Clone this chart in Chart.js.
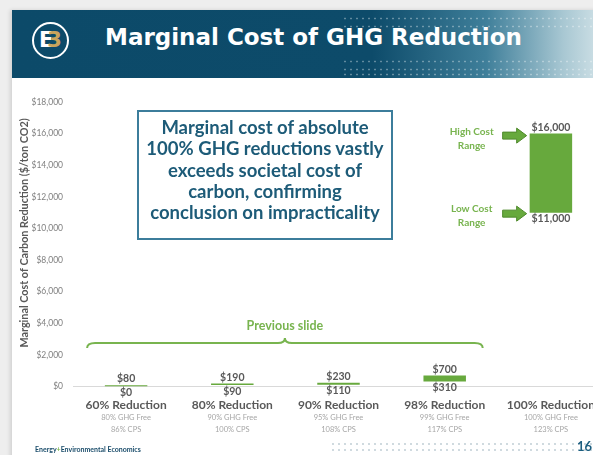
<!DOCTYPE html>
<html lang="en">
<head>
  <meta charset="UTF-8" />
  <title>Marginal Cost of GHG Reduction</title>
  <script src="https://cdn.jsdelivr.net/npm/chart.js"></script>
  <style>
    html, body { margin: 0; padding: 0; }
    body { width: 593px; height: 455px; overflow: hidden; background: #eeeeee; position: relative; font-family: 'Lato', sans-serif; }
    #slide { position: absolute; left: 12px; top: 10px; width: 620px; height: 460px; background: #fff; box-shadow: -2px 0 4px rgba(0,0,0,0.12); }
    #header { position: absolute; left: 12px; top: 10px; width: 600px; height: 68px;
      background: linear-gradient(to right, #0c4a69 0%, #0d4b6a 60%, #3f7f9a 79%, #a9c8d3 92%, #dce9ed 100%); }
    #header .dots { position: absolute; left: 330px; width: 270px; height: 3px;
      background-image: radial-gradient(circle, rgba(255,255,255,0.35) 0.8px, transparent 1.2px);
      background-size: 6px 3px; }
    #logo { position: absolute; left: 32px; top: 22px; width: 33px; height: 33px; border: 2px solid #fff; border-radius: 50%;
      font: bold 21px 'DejaVu Sans', sans-serif; color: #fff; text-align: center; line-height: 33px; }
    #logo span { color: #c9a45c; margin-left: -6px; }
    #title { position: absolute; left: 105px; top: 24px; color: #fff; font: bold 23px 'DejaVu Sans', sans-serif; }
    #note { position: absolute; left: 137px; top: 110px; width: 256px; height: 130px; border: 2px solid #3c7d9b;
      color: #1d5b78; font: bold 18.5px 'Lato', sans-serif; line-height: 21.3px; text-align: center; padding-top: 5px; box-sizing: border-box; }
    #chart { position: absolute; left: 0; top: 0; }
    #foot { position: absolute; left: 35px; top: 445px; font: bold 7px 'Lato', sans-serif; color: #1b4d6b; }
    #foot span { color: #7ab648; }
    #page { position: absolute; left: 577px; top: 438px; font: bold 13px 'Lato', sans-serif; color: #1d5f80; }
    #footdots { position: absolute; left: 330px; top: 441px; width: 270px; height: 12px;
      background-image: radial-gradient(circle, rgba(120,150,165,0.35) 0.8px, transparent 1.2px);
      background-size: 6px 6px; }
  </style>
</head>
<body>
  <div id="slide"></div>
  <div id="header">
    <div class="dots" style="top:7px"></div>
    <div class="dots" style="top:15px"></div>
    <div class="dots" style="top:50px"></div>
    <div class="dots" style="top:58px"></div>
    <div class="dots" style="top:63px"></div>
  </div>
  <div id="logo">E<span>3</span></div>
  <div id="title">Marginal Cost of GHG Reduction</div>
  <div id="footdots"></div>
  <canvas id="chart" width="612" height="455"></canvas>
  <div id="note">Marginal cost of absolute<br>100% GHG reductions vastly<br>exceeds societal cost of<br>carbon, confirming<br>conclusion on impracticality</div>
  <div id="foot">Energy<span>+</span>Environmental Economics</div>
  <div id="page">16</div>

  <script>
    // categories and sub labels
    const categories = ['60% Reduction', '80% Reduction', '90% Reduction', '98% Reduction', '100% Reduction'];
    const ghgFree = ['80% GHG Free', '90% GHG Free', '95% GHG Free', '99% GHG Free', '100% GHG Free'];
    const cps = ['86% CPS', '100% CPS', '108% CPS', '117% CPS', '123% CPS'];

    // cost range ($/ton CO2)
    const lowCost = [0, 90, 110, 310, 11000];
    const highCost = [80, 190, 230, 700, 16000];

    const yTicks = { min: 0, max: 18000, step: 2000 };

    const green = '#67a93d';
    const lightGreen = '#78b44f';
    const greyText = '#595959';

    const money = v => '$' + v.toLocaleString('en-US');

    const overlay = {
      id: 'overlay',
      afterDatasetsDraw(chart) {
        const ctx = chart.ctx;
        const x = chart.scales.x;
        const y = chart.scales.y;
        const bars = chart.getDatasetMeta(0).data;
        ctx.save();

        // value labels above / below each bar
        ctx.fillStyle = greyText;
        ctx.textAlign = 'center';
        ctx.font = 'bold 10.5px Lato, sans-serif';
        bars.forEach((bar, i) => {
          const top = Math.min(bar.y, bar.base);
          const bottom = Math.max(bar.y, bar.base);
          ctx.textBaseline = 'bottom';
          ctx.fillText(money(highCost[i]), bar.x, top - 1);
          ctx.textBaseline = 'top';
          ctx.fillText(money(lowCost[i]), bar.x, bottom + 1);
        });

        // category labels
        categories.forEach((c, i) => {
          const cx = x.getPixelForValue(i);
          ctx.textBaseline = 'middle';
          ctx.fillStyle = greyText;
          ctx.font = 'bold 12px Lato, sans-serif';
          ctx.fillText(c, cx, 405);
          ctx.fillStyle = '#a6a6a6';
          ctx.font = '7.5px Lato, sans-serif';
          ctx.fillText(ghgFree[i], cx, 418);
          ctx.fillText(cps[i], cx, 430);
        });

        // y-axis title
        ctx.save();
        ctx.translate(25, 233);
        ctx.rotate(-Math.PI / 2);
        ctx.fillStyle = greyText;
        ctx.font = 'bold 10.8px Lato, sans-serif';
        ctx.textBaseline = 'middle';
        ctx.fillText('Marginal Cost of Carbon Reduction ($/ton CO2)', 0, 0);
        ctx.restore();

        // brace over the first four bars
        const bl = x.getPixelForValue(0) - 39;
        const br = x.getPixelForValue(3) + 38;
        const bm = (bl + br) / 2;
        const by = y.getPixelForValue(2750);
        ctx.strokeStyle = lightGreen;
        ctx.lineWidth = 2;
        ctx.beginPath();
        ctx.moveTo(bl, by + 5);
        ctx.quadraticCurveTo(bl, by, bl + 8, by);
        ctx.lineTo(bm - 7, by);
        ctx.quadraticCurveTo(bm, by, bm, by - 5);
        ctx.quadraticCurveTo(bm, by, bm + 7, by);
        ctx.lineTo(br - 8, by);
        ctx.quadraticCurveTo(br, by, br, by + 5);
        ctx.stroke();
        ctx.fillStyle = lightGreen;
        ctx.font = 'bold 12.5px Lato, sans-serif';
        ctx.textBaseline = 'middle';
        ctx.fillText('Previous slide', bm, by - 17);

        // high / low cost arrows for the last bar
        const last = bars[4];
        const tipX = last.x - last.width / 2 - 3;
        const arrow = (ay) => {
          const x0 = tipX - 24, hx = tipX - 10;
          ctx.beginPath();
          ctx.moveTo(x0, ay - 3.5);
          ctx.lineTo(hx, ay - 3.5);
          ctx.lineTo(hx, ay - 7.5);
          ctx.lineTo(tipX, ay);
          ctx.lineTo(hx, ay + 7.5);
          ctx.lineTo(hx, ay + 3.5);
          ctx.lineTo(x0, ay + 3.5);
          ctx.closePath();
          ctx.fillStyle = green;
          ctx.fill();
          ctx.strokeStyle = '#4f8a2c';
          ctx.lineWidth = 1;
          ctx.stroke();
        };
        const hiY = y.getPixelForValue(highCost[4]) + 2;
        const loY = y.getPixelForValue(lowCost[4]) + 1;
        arrow(hiY);
        arrow(loY);
        ctx.fillStyle = lightGreen;
        ctx.font = 'bold 10px Lato, sans-serif';
        ctx.fillText('High Cost', tipX - 55, hiY - 4);
        ctx.fillText('Range', tipX - 55, hiY + 10);
        ctx.fillText('Low Cost', tipX - 55, loY - 5);
        ctx.fillText('Range', tipX - 55, loY + 9);

        ctx.restore();
      }
    };

    new Chart(document.getElementById('chart'), {
      type: 'bar',
      data: {
        labels: categories,
        datasets: [{
          data: lowCost.map((lo, i) => [lo, highCost[i]]),
          backgroundColor: green,
          borderWidth: 0,
          borderSkipped: false,
          barPercentage: 0.4,
          categoryPercentage: 1
        }]
      },
      options: {
        responsive: false,
        animation: false,
        layout: { padding: { left: 0, top: 102, right: 8, bottom: 60.5 } },
        plugins: { legend: { display: false }, tooltip: { enabled: false } },
        scales: {
          x: {
            grid: { display: false },
            border: { display: true, color: '#d9d9d9', width: 1 },
            ticks: { display: false }
          },
          y: {
            min: yTicks.min,
            max: yTicks.max,
            grid: { display: false },
            border: { display: false },
            afterFit: s => { s.width = 73; },
            ticks: {
              stepSize: yTicks.step,
              padding: 2,
              color: '#7f7f7f',
              font: { family: 'Lato', size: 8.5 },
              callback: v => money(v)
            }
          }
        }
      },
      plugins: [overlay]
    });
  </script>
</body>
</html>
